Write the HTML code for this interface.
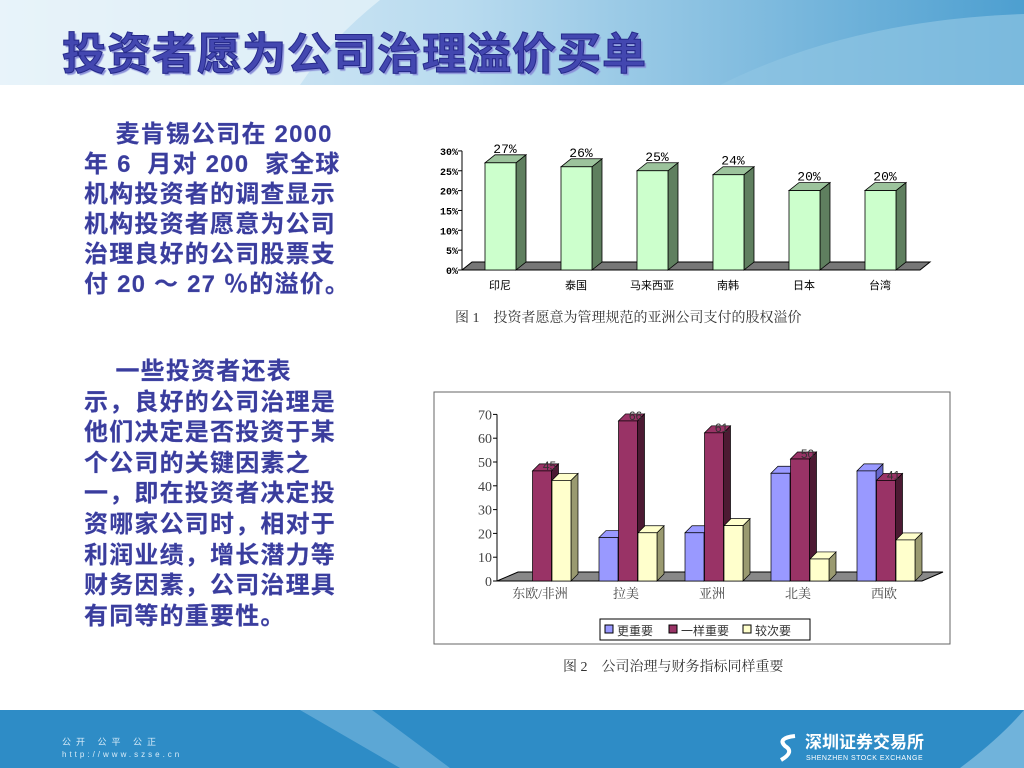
<!DOCTYPE html>
<html><head><meta charset="utf-8"><style>
body{margin:0;width:1024px;height:768px;position:relative;overflow:hidden;background:#fff;font-family:"Liberation Sans","Noto Sans CJK SC",sans-serif}
.txt{position:absolute;left:84px;color:#3a3d9c;font-weight:bold;font-size:24px;line-height:30px;letter-spacing:1.2px;white-space:nowrap;-webkit-text-stroke:0.2px #5a5fc0}
</style></head><body>
<svg width="1024" height="86" style="position:absolute;left:0;top:0">
<defs><linearGradient id="hg" x1="0" x2="1" y1="0" y2="0"><stop offset="0" stop-color="#e6f2fa"/><stop offset="0.45" stop-color="#b9dbef"/><stop offset="1" stop-color="#4d9fd0"/></linearGradient></defs>
<rect width="1024" height="85" fill="url(#hg)"/>
<path d="M0,0 L380,0 Q330,40 300,85 L0,85Z" fill="#e8f3fa" opacity="0.7"/>
<path d="M720,85 Q850,20 1024,14 L1024,85Z" fill="#8fc4e3" opacity="0.7"/>
</svg>
<div style="position:absolute;left:62px;top:18px;font-size:44px;font-weight:bold;color:#4347b0;letter-spacing:1px;-webkit-text-stroke:1px #262a8a;text-shadow:2px 2px 1px #8a8fd8;font-family:'Liberation Sans','Noto Sans CJK SC',sans-serif">投资者愿为公司治理溢价买单</div>

<div class="txt" style="top:120px">&nbsp;&nbsp;&nbsp;&nbsp;麦肯锡公司在 2000<br>年 6 &nbsp;月对 200 &nbsp;家全球<br>机构投资者的调查显示<br>机构投资者愿意为公司<br>治理良好的公司股票支<br>付 20 ～ 27 ％的溢价。</div>
<div class="txt" style="top:357px;line-height:30.6px">&nbsp;&nbsp;&nbsp;&nbsp;一些投资者还表<br>示，良好的公司治理是<br>他们决定是否投资于某<br>个公司的关键因素之<br>一，即在投资者决定投<br>资哪家公司时，相对于<br>利润业绩，增长潜力等<br>财务因素，公司治理具<br>有同等的重要性。</div>

<svg id="c1" width="1024" height="768" style="position:absolute;left:0;top:0;pointer-events:none"></svg>
<svg id="c2" width="1024" height="768" style="position:absolute;left:0;top:0;pointer-events:none"></svg>

<svg width="1024" height="60" style="position:absolute;left:0;top:708px">
<rect y="2" width="1024" height="58" fill="#2e8cc6"/>
<path d="M300,2 L372,2 L450,60 L400,60 Z" fill="#7bb9df" opacity="0.6"/>
<path d="M1024,2 L1024,60 L960,60 Q1000,30 1024,2Z" fill="#8dc3e4" opacity="0.7"/>
<text x="62" y="37" font-size="9" fill="#d9ecf8" letter-spacing="5">公开 公平 公正</text>
<text x="62" y="49" font-size="8" fill="#d9ecf8" letter-spacing="3">http://www.szse.cn</text>
<text x="805" y="40" font-size="17" font-weight="bold" fill="#fff">深圳证券交易所</text>
<text x="806" y="52" font-size="7" fill="#fff" letter-spacing="0.5">SHENZHEN STOCK EXCHANGE</text>
<path d="M795,28 q-18,2 -10,10 q10,6 -4,14" stroke="#fff" stroke-width="4" fill="none"/>
</svg>

<script>
const cats1=["印尼","泰国","马来西亚","南韩","日本","台湾"];
const vals1=[27,26,25,24,20,20];
const ticks1=[0,5,10,15,20,25,30];
const cats2=["东欧/非洲","拉美","亚洲","北美","西欧"];
const more2=[0,17,19,44,45];
const same2=[45,66,61,50,41];
const less2=[41,19,22,8,16];
const ticks2=[0,10,20,30,40,50,60,70];
const series2=[["更重要",more2,"#9999ff","#6666cc"],["一样重要",same2,"#993366","#4d1a33"],["较次要",less2,"#ffffcc","#9a9a70"]];
const NS="http://www.w3.org/2000/svg";
function mk(svg,tag,attrs,text){const e=document.createElementNS(NS,tag);for(const k in attrs)e.setAttribute(k,attrs[k]);if(text!==undefined)e.textContent=text;svg.appendChild(e);return e;}
// chart 1
(function(){
const s=document.getElementById('c1');
const x0=462,y0=270,dx=10,dy=8;
const y=v=>y0-v*3.97;
const cx=i=>500+i*76;
let f=mk(s,'polygon',{points:`${x0},${y0} 920,${y0} ${920+dx},${y0-dy} ${x0+dx},${y0-dy}`,fill:'#777',stroke:'#000','stroke-width':1});

let a=mk(s,'line',{x1:x0,y1:y(30),x2:x0,y2:y0,stroke:'#000'});

ticks1.forEach(t=>{
 mk(s,'line',{x1:x0-4,y1:y(t),x2:x0,y2:y(t),stroke:'#000'});
 let tl=mk(s,'text',{x:x0-4,y:y(t)+4,'font-size':10,'text-anchor':'end','font-weight':'bold','font-family':'Liberation Mono,monospace'},t+'%');
 
});
vals1.forEach((v,i)=>{
 const l=cx(i)-15,r=l+31,t=y(v);
 let g=mk(s,'g',{});
 
 mk(g,'polygon',{points:`${r},${y0} ${r+dx},${y0-dy} ${r+dx},${t-dy} ${r},${t}`,fill:'#5f7f5f',stroke:'#000','stroke-width':0.8});
 mk(g,'polygon',{points:`${l},${t} ${l+dx},${t-dy} ${r+dx},${t-dy} ${r},${t}`,fill:'#9cc39c',stroke:'#000','stroke-width':0.8});
 mk(g,'rect',{x:l,y:t,width:31,height:y0-t,fill:'#ccffcc',stroke:'#000','stroke-width':0.8});
 let vl=mk(s,'text',{x:cx(i)+5,y:t-10,'font-size':13,'text-anchor':'middle','font-family':'Liberation Mono,monospace'},v+'%');
 
 let cl=mk(s,'text',{x:cx(i),y:y0+19,'font-size':11,'text-anchor':'middle'},cats1[i]);
 
});
let cap=mk(s,'text',{x:455,y:322,'font-size':14,fill:'#333','font-family':'Liberation Serif,Noto Serif CJK SC,serif'},'图 1　投资者愿意为管理规范的亚洲公司支付的股权溢价');

})();
// chart 2
(function(){
const s=document.getElementById('c2');
let fr=mk(s,'rect',{x:434,y:392,width:516,height:252,fill:'#fff',stroke:'#666','stroke-width':1});

const x0=497,y0=581,dx=7,dy=7;
const y=v=>y0-v*2.38;
const cx=i=>542+i*86;
let f=mk(s,'polygon',{points:`${x0},${y0} 922,${y0} ${922+3*dx},${y0-dy-2} ${x0+3*dx},${y0-dy-2}`,fill:'#888',stroke:'#000','stroke-width':1});

mk(s,'line',{x1:x0,y1:y(70),x2:x0,y2:y0,stroke:'#000'});
ticks2.forEach(t=>{
 mk(s,'line',{x1:x0-4,y1:y(t),x2:x0,y2:y(t),stroke:'#000'});
 let tl=mk(s,'text',{x:x0-5,y:y(t)+5,'font-size':14,'text-anchor':'end',fill:'#444','font-family':'Liberation Serif,serif'},t);
 
});
cats2.forEach((c,i)=>{
 series2.forEach((ser,k)=>{
  const v=ser[1][i];if(!v)return;
  const l=cx(i)-29+k*19.5,r=l+19,t=y(v)-3;
  let g=mk(s,'g',{});
  
  mk(g,'polygon',{points:`${r},${y0} ${r+dx},${y0-dy} ${r+dx},${t-dy} ${r},${t}`,fill:ser[3],stroke:'#000','stroke-width':0.7});
  mk(g,'polygon',{points:`${l},${t} ${l+dx},${t-dy} ${r+dx},${t-dy} ${r},${t}`,fill:ser[2],stroke:'#000','stroke-width':0.7});
  mk(g,'rect',{x:l,y:t,width:19,height:y0-t,fill:ser[2],stroke:'#000','stroke-width':0.7});
  if(k===1){let vl=mk(s,'text',{x:r-2,y:t-1,'font-size':12,'text-anchor':'middle',fill:'#333'},v);
   }
 });
 let cl=mk(s,'text',{x:cx(i)-2,y:y0+17,'font-size':13,'text-anchor':'middle',fill:'#444','font-family':'Liberation Serif,Noto Serif CJK SC,serif'},c);
 
});
let lg=mk(s,'g',{});

mk(lg,'rect',{x:600,y:619,width:210,height:21,fill:'#fff',stroke:'#000'});
const lx=[605,669,743];
series2.forEach((ser,k)=>{
 let e=mk(lg,'g',{});
 
 mk(e,'rect',{x:lx[k],y:625,width:8,height:8,fill:ser[2],stroke:'#000'});
 mk(e,'text',{x:lx[k]+12,y:635,'font-size':12,fill:'#333'},ser[0]);
});
let cap=mk(s,'text',{x:563,y:671,'font-size':14,fill:'#333','font-family':'Liberation Serif,Noto Serif CJK SC,serif'},'图 2　公司治理与财务指标同样重要');

})();
</script>
</body></html>
